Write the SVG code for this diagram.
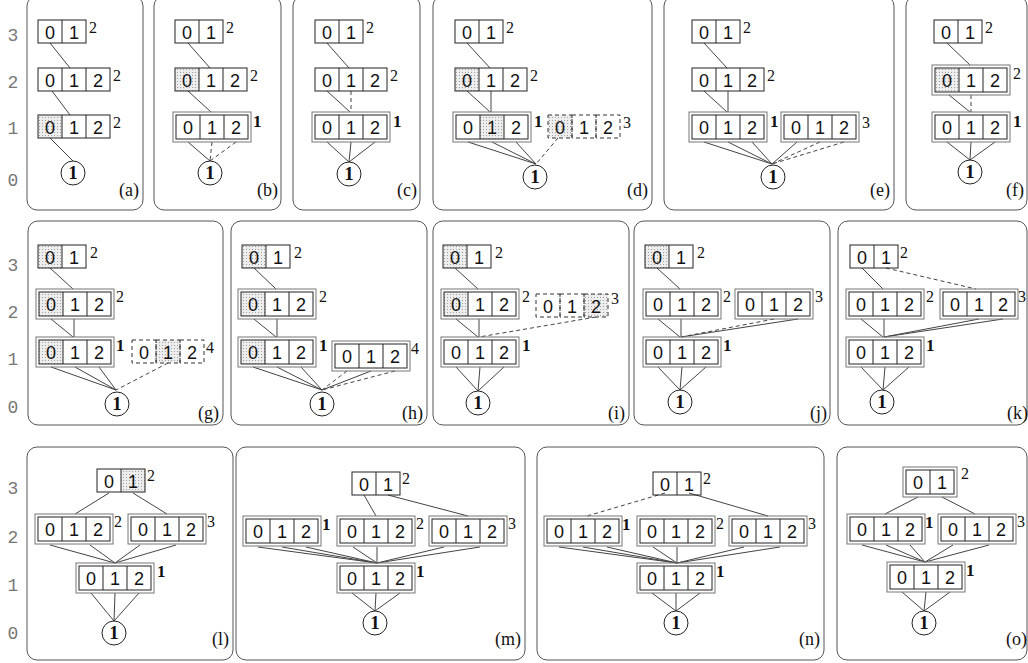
<svg xmlns="http://www.w3.org/2000/svg" xmlns:xlink="http://www.w3.org/1999/xlink" width="1028" height="663" viewBox="0 0 1028 663">
<style>
.fr{fill:none;stroke:#555;stroke-width:1}
.bx{fill:none;stroke:#222;stroke-width:1}
.ob{fill:none;stroke:#777;stroke-width:1}
.dx{fill:none;stroke:#333;stroke-width:1;stroke-dasharray:4 3}
.sh{fill:url(#dots)}
.dg{font-family:"Liberation Sans",Arial,sans-serif;font-size:18px;text-anchor:middle;fill:#111}
.sp{font-family:"Liberation Serif","Times New Roman",serif;font-size:16px;fill:#111}
.sb{font-family:"Liberation Serif","Times New Roman",serif;font-size:17px;font-weight:bold;fill:#111}
.cn{font-family:"Liberation Serif","Times New Roman",serif;font-size:19px;font-weight:bold;text-anchor:middle;fill:#111}
.nd{fill:#fff;stroke:#222;stroke-width:1}
.lv{font-family:"Liberation Mono","Courier New",monospace;font-size:18px;fill:#777;text-anchor:middle}
.lb{font-family:"Liberation Serif","Times New Roman",serif;font-size:18px;text-anchor:end;fill:#111}
.ln{stroke:#444;stroke-width:1;fill:none}
.dl{stroke:#444;stroke-width:1;stroke-dasharray:4 3;fill:none}
</style>
<defs>
<pattern id="dots" width="3" height="3" patternUnits="userSpaceOnUse"><rect width="3" height="3" fill="#ededed"/><rect width="1" height="1" fill="#a0a0a0"/></pattern>
<g id="s2"><rect class="bx" width="48" height="23"/><path class="bx" d="M24 0V23"/></g>
<g id="s3"><rect class="bx" width="72" height="23"/><path class="bx" d="M24 0V23M48 0V23"/></g>
<g id="d2"><rect class="ob" x="-3" y="-3" width="54" height="30"/><rect class="bx" width="48" height="24"/><path class="bx" d="M24 0V24"/></g>
<g id="d3"><rect class="ob" x="-3" y="-3" width="78" height="30"/><rect class="bx" width="72" height="24"/><path class="bx" d="M24 0V24M48 0V24"/></g>
<g id="x3"><rect class="dx" width="24" height="23"/><rect class="dx" x="24" width="24" height="23"/><rect class="dx" x="48" width="24" height="23"/></g>
</defs>
<rect width="1028" height="663" fill="#fff"/>
<g id="frames">
<rect class="fr" x="27" y="-4" width="116" height="214" rx="10"/>
<rect class="fr" x="154" y="-4" width="127" height="214" rx="10"/>
<rect class="fr" x="293" y="-4" width="127" height="214" rx="10"/>
<rect class="fr" x="433" y="-4" width="219" height="214" rx="10"/>
<rect class="fr" x="664" y="-4" width="230" height="214" rx="10"/>
<rect class="fr" x="906" y="-4" width="121" height="214" rx="10"/>
<rect class="fr" x="28" y="221" width="195" height="204" rx="10"/>
<rect class="fr" x="231" y="221" width="196" height="204" rx="10"/>
<rect class="fr" x="433" y="221" width="196" height="204" rx="10"/>
<rect class="fr" x="634" y="221" width="196" height="204" rx="10"/>
<rect class="fr" x="838" y="221" width="189" height="204" rx="10"/>
<rect class="fr" x="27" y="447" width="206" height="213" rx="10"/>
<rect class="fr" x="236" y="447" width="289" height="213" rx="10"/>
<rect class="fr" x="537" y="447" width="287" height="213" rx="10"/>
<rect class="fr" x="837" y="447" width="190" height="213" rx="10"/>
</g>
<g id="levels">
<text class="lv" x="13" y="41">3</text><text class="lv" x="13" y="88">2</text><text class="lv" x="13" y="134">1</text><text class="lv" x="13" y="186">0</text>
<text class="lv" x="13" y="271">3</text><text class="lv" x="13" y="318">2</text><text class="lv" x="13" y="365">1</text><text class="lv" x="13" y="413">0</text>
<text class="lv" x="13" y="494">3</text><text class="lv" x="13" y="543">2</text><text class="lv" x="13" y="591">1</text><text class="lv" x="13" y="639">0</text>
</g>
<g id="labels">
<text class="lb" x="139" y="196">(a)</text><text class="lb" x="278" y="196">(b)</text><text class="lb" x="417" y="196">(c)</text><text class="lb" x="648" y="196">(d)</text><text class="lb" x="890" y="196">(e)</text><text class="lb" x="1024" y="196">(f)</text>
<text class="lb" x="219" y="419">(g)</text><text class="lb" x="423" y="419">(h)</text><text class="lb" x="625" y="419">(i)</text><text class="lb" x="827" y="419">(j)</text><text class="lb" x="1028" y="419">(k)</text>
<text class="lb" x="229" y="645">(l)</text><text class="lb" x="521" y="645">(m)</text><text class="lb" x="820" y="645">(n)</text><text class="lb" x="1027" y="645">(o)</text>
</g>
<g id="connectors">
<path class="ln" d="M50 43L70 68M52 91L70 115M50 138L73 161"/>
<path class="ln" d="M188 43L210 68M188 91L211 112M188 142L210 161"/><path class="dl" d="M212 142L210 161M236 142L210 161"/>
<path class="ln" d="M327 43L349 68M327 91L350 112M327 142L349 162M351 142L349 162M375 142L349 162"/><path class="dl" d="M351 91L351 112"/>
<path class="ln" d="M467 43L490 68M467 91L490 112M491 91L491 112M468 142L536 164M492 142L536 164M516 142L536 164"/><path class="dl" d="M558 138L536 164"/>
<path class="ln" d="M704 43L727 68M704 91L727 112M728 91L728 112M704 142L772 164M728 142L772 164M752 142L772 164M797 142L772 164"/><path class="dl" d="M820 142L772 164M844 142L772 164"/>
<path class="ln" d="M947 43L970 65M949 95L970 112M947 142L970 160M971 142L970 160M995 142L970 160"/><path class="dl" d="M971 95L971 112"/>
<path class="ln" d="M50 268L73 289M51 319L73 337M74 319L74 337M51 367L116 390M75 367L116 390M99 367L116 390"/><path class="dl" d="M168 363L116 390"/>
<path class="ln" d="M254 268L276 289M254 319L276 337M277 319L277 337M253 367L322 390M277 367L322 390M301 367L322 390M371 371L322 390"/><path class="dl" d="M347 371L322 390M395 371L322 390"/>
<path class="ln" d="M455 268L478 289M456 319L478 337M479 319L479 337M456 367L478 391M480 367L478 391M504 367L478 391"/><path class="dl" d="M596 317L479 337"/>
<path class="ln" d="M657 268L680 289M658 319L680 337M681 319L681 337M798 319L681 337M658 367L680 390M682 367L680 390M706 367L680 390"/><path class="dl" d="M774 319L681 337"/>
<path class="ln" d="M862 268L883 289M861 319L883 337M884 319L884 337M979 319L884 337M1003 319L884 337M861 367L883 390M885 367L883 390M909 367L883 390"/><path class="dl" d="M886 268L976 289"/>
<path class="ln" d="M109 493L75 514M133 493L167 514M50 545L115 563M90 545L115 563M140 545L115 563M176 545L115 563M91 593L114 621M115 593L114 621M139 593L114 621"/>
<path class="ln" d="M364 495L376 516M388 495L468 516M258 547L377 563M282 547L377 563M306 547L377 563M353 547L377 563M377 547L377 563M444 547L377 563M480 547L377 563M352 593L375 611M376 593L375 611M400 593L375 611"/>
<path class="ln" d="M689 493L768 516M559 547L677 563M583 547L677 563M607 547L677 563M653 547L677 563M677 547L677 563M744 547L677 563M780 547L677 563M652 593L676 611M676 593L676 611M700 593L676 611"/><path class="dl" d="M665 493L587 516"/>
<path class="ln" d="M918 497L885 514M942 497L975 514M862 545L925 562M886 545L925 562M910 545L925 562M953 545L925 562M989 545L925 562M902 592L924 611M926 592L924 611M950 592L924 611"/>
</g>
<!-- panel a -->
<g id="a3"><use href="#s2" x="38" y="20"/><text class="dg" x="50 74" y="39">01</text><text class="sp" x="89" y="33">2</text></g>
<g id="a2"><use href="#s3" x="38" y="68"/><text class="dg" x="50 74 98" y="87">012</text><text class="sp" x="113" y="81">2</text></g>
<g id="a1"><rect class="sh" x="38" y="115" width="24" height="23"/><use href="#s3" x="38" y="115"/><text class="dg" x="50 74 98" y="134">012</text><text class="sp" x="113" y="128">2</text></g>
<g id="a0"><circle class="nd" cx="73" cy="173" r="12"/><text class="cn" x="73" y="179">1</text></g>
<!-- panel b -->
<g id="b3"><use href="#s2" x="175" y="20"/><text class="dg" x="187 211" y="39">01</text><text class="sp" x="226" y="33">2</text></g>
<g id="b2"><rect class="sh" x="175" y="68" width="24" height="23"/><use href="#s3" x="175" y="68"/><text class="dg" x="187 211 235" y="87">012</text><text class="sp" x="250" y="81">2</text></g>
<g id="b1"><use href="#d3" x="176" y="115"/><text class="dg" x="188 212 236" y="134">012</text><text class="sb" x="253" y="127">1</text></g>
<g id="b0"><circle class="nd" cx="210" cy="173" r="12"/><text class="cn" x="210" y="179">1</text></g>
<!-- panel c -->
<g id="c3"><use href="#s2" x="315" y="20"/><text class="dg" x="327 351" y="39">01</text><text class="sp" x="366" y="33">2</text></g>
<g id="c2"><use href="#s3" x="315" y="68"/><text class="dg" x="327 351 375" y="87">012</text><text class="sp" x="390" y="81">2</text></g>
<g id="c1"><use href="#d3" x="315" y="115"/><text class="dg" x="327 351 375" y="134">012</text><text class="sb" x="393" y="127">1</text></g>
<g id="c0"><circle class="nd" cx="349" cy="174" r="12"/><text class="cn" x="349" y="180">1</text></g>
<!-- panel d -->
<g id="d3n"><use href="#s2" x="455" y="20"/><text class="dg" x="467 491" y="39">01</text><text class="sp" x="506" y="33">2</text></g>
<g id="d2n"><rect class="sh" x="455" y="68" width="24" height="23"/><use href="#s3" x="455" y="68"/><text class="dg" x="467 491 515" y="87">012</text><text class="sp" x="530" y="81">2</text></g>
<g id="d1n"><rect class="sh" x="480" y="115" width="24" height="24"/><use href="#d3" x="456" y="115"/><text class="dg" x="468 492 516" y="134">012</text><text class="sb" x="534" y="127">1</text></g>
<g id="d1m"><rect class="sh" x="548" y="115" width="24" height="23"/><use href="#x3" x="548" y="115"/><text class="dg" x="560 584 608" y="134">012</text><text class="sp" x="623" y="128">3</text></g>
<g id="d0n"><circle class="nd" cx="535" cy="177" r="12"/><text class="cn" x="535" y="183">1</text></g>
<!-- panel e -->
<g id="e3"><use href="#s2" x="692" y="20"/><text class="dg" x="704 728" y="39">01</text><text class="sp" x="743" y="33">2</text></g>
<g id="e2"><use href="#s3" x="692" y="68"/><text class="dg" x="704 728 752" y="87">012</text><text class="sp" x="767" y="81">2</text></g>
<g id="e1"><use href="#d3" x="692" y="115"/><text class="dg" x="704 728 752" y="134">012</text><text class="sb" x="770" y="127">1</text></g>
<g id="e1b"><use href="#d3" x="784" y="115"/><text class="dg" x="796 820 844" y="134">012</text><text class="sp" x="862" y="128">3</text></g>
<g id="e0"><circle class="nd" cx="773" cy="177" r="12"/><text class="cn" x="773" y="183">1</text></g>
<!-- panel f -->
<g id="f3"><use href="#s2" x="934" y="20"/><text class="dg" x="946 970" y="39">01</text><text class="sp" x="985" y="33">2</text></g>
<g id="f2"><rect class="sh" x="935" y="68" width="24" height="24"/><use href="#d3" x="935" y="68"/><text class="dg" x="947 971 995" y="87">012</text><text class="sp" x="1013" y="79">2</text></g>
<g id="f1"><use href="#d3" x="935" y="115"/><text class="dg" x="947 971 995" y="134">012</text><text class="sb" x="1013" y="127">1</text></g>
<g id="f0"><circle class="nd" cx="970" cy="172" r="12"/><text class="cn" x="970" y="178">1</text></g>
<!-- panel g -->
<g id="g3"><rect class="sh" x="38" y="245" width="24" height="23"/><use href="#s2" x="38" y="245"/><text class="dg" x="50 74" y="264">01</text><text class="sp" x="90" y="258">2</text></g>
<g id="g2"><rect class="sh" x="39" y="292" width="24" height="24"/><use href="#d3" x="39" y="292"/><text class="dg" x="51 75 99" y="311">012</text><text class="sp" x="116" y="302">2</text></g>
<g id="g1"><rect class="sh" x="39" y="340" width="24" height="24"/><use href="#d3" x="39" y="340"/><text class="dg" x="51 75 99" y="359">012</text><text class="sb" x="116" y="351">1</text></g>
<g id="g1b"><rect class="sh" x="156" y="340" width="24" height="23"/><use href="#x3" x="132" y="340"/><text class="dg" x="144 168 192" y="359">012</text><text class="sp" x="206" y="353">4</text></g>
<g id="g0"><circle class="nd" cx="117" cy="404" r="12"/><text class="cn" x="117" y="410">1</text></g>
<!-- panel h -->
<g id="h3"><rect class="sh" x="242" y="245" width="24" height="23"/><use href="#s2" x="242" y="245"/><text class="dg" x="254 278" y="264">01</text><text class="sp" x="294" y="258">2</text></g>
<g id="h2"><rect class="sh" x="241" y="292" width="24" height="24"/><use href="#d3" x="241" y="292"/><text class="dg" x="253 277 301" y="311">012</text><text class="sp" x="319" y="302">2</text></g>
<g id="h1"><rect class="sh" x="241" y="340" width="24" height="24"/><use href="#d3" x="241" y="340"/><text class="dg" x="253 277 301" y="359">012</text><text class="sb" x="319" y="351">1</text></g>
<g id="h1b"><use href="#d3" x="335" y="344"/><text class="dg" x="347 371 395" y="363">012</text><text class="sp" x="411" y="354">4</text></g>
<g id="h0"><circle class="nd" cx="322" cy="404" r="12"/><text class="cn" x="322" y="410">1</text></g>
<!-- panel i -->
<g id="i3"><rect class="sh" x="443" y="245" width="24" height="23"/><use href="#s2" x="443" y="245"/><text class="dg" x="455 479" y="264">01</text><text class="sp" x="495" y="258">2</text></g>
<g id="i2"><rect class="sh" x="444" y="292" width="24" height="24"/><use href="#d3" x="444" y="292"/><text class="dg" x="456 480 504" y="311">012</text><text class="sp" x="522" y="302">2</text></g>
<g id="i2b"><rect class="sh" x="584" y="294" width="24" height="23"/><use href="#x3" x="536" y="294"/><text class="dg" x="548 572 596" y="313">012</text><text class="sp" x="611" y="304">3</text></g>
<g id="i1"><use href="#d3" x="444" y="340"/><text class="dg" x="456 480 504" y="359">012</text><text class="sb" x="522" y="351">1</text></g>
<g id="i0"><circle class="nd" cx="478" cy="403" r="12"/><text class="cn" x="478" y="409">1</text></g>
<!-- panel j -->
<g id="j3"><rect class="sh" x="645" y="245" width="24" height="23"/><use href="#s2" x="645" y="245"/><text class="dg" x="657 681" y="264">01</text><text class="sp" x="697" y="258">2</text></g>
<g id="j2"><use href="#d3" x="646" y="292"/><text class="dg" x="658 682 706" y="311">012</text><text class="sp" x="723" y="302">2</text></g>
<g id="j2b"><use href="#d3" x="738" y="292"/><text class="dg" x="750 774 798" y="311">012</text><text class="sp" x="815" y="302">3</text></g>
<g id="j1"><use href="#d3" x="646" y="340"/><text class="dg" x="658 682 706" y="359">012</text><text class="sb" x="723" y="351">1</text></g>
<g id="j0"><circle class="nd" cx="680" cy="402" r="12"/><text class="cn" x="680" y="408">1</text></g>
<!-- panel k -->
<g id="k3"><use href="#s2" x="850" y="245"/><text class="dg" x="862 886" y="264">01</text><text class="sp" x="900" y="258">2</text></g>
<g id="k2"><use href="#d3" x="849" y="292"/><text class="dg" x="861 885 909" y="311">012</text><text class="sp" x="926" y="302">2</text></g>
<g id="k2b"><use href="#d3" x="943" y="292"/><text class="dg" x="955 979 1003" y="311">012</text><text class="sp" x="1018" y="302">3</text></g>
<g id="k1"><use href="#d3" x="849" y="340"/><text class="dg" x="861 885 909" y="359">012</text><text class="sb" x="926" y="351">1</text></g>
<g id="k0"><circle class="nd" cx="882" cy="402" r="12"/><text class="cn" x="882" y="408">1</text></g>
<!-- panel l -->
<g id="l3"><rect class="sh" x="121" y="469" width="24" height="23"/><use href="#s2" x="97" y="469"/><text class="dg" x="109 133" y="488">01</text><text class="sp" x="147" y="481">2</text></g>
<g id="l2a"><use href="#d3" x="38" y="517"/><text class="dg" x="50 74 98" y="536">012</text><text class="sp" x="114" y="527">2</text></g>
<g id="l2b"><use href="#d3" x="131" y="517"/><text class="dg" x="143 167 191" y="536">012</text><text class="sp" x="207" y="527">3</text></g>
<g id="l1"><use href="#d3" x="79" y="566"/><text class="dg" x="91 115 139" y="585">012</text><text class="sb" x="157" y="577">1</text></g>
<g id="l0"><circle class="nd" cx="114" cy="633" r="12"/><text class="cn" x="114" y="639">1</text></g>
<!-- panel m -->
<g id="m3"><use href="#s2" x="352" y="472"/><text class="dg" x="364 388" y="491">01</text><text class="sp" x="402" y="484">2</text></g>
<g id="m2a"><use href="#d3" x="246" y="519"/><text class="dg" x="258 282 306" y="538">012</text><text class="sb" x="322" y="530">1</text></g>
<g id="m2b"><use href="#d3" x="340" y="519"/><text class="dg" x="352 376 400" y="538">012</text><text class="sp" x="416" y="529">2</text></g>
<g id="m2c"><use href="#d3" x="432" y="519"/><text class="dg" x="444 468 492" y="538">012</text><text class="sp" x="508" y="529">3</text></g>
<g id="m1"><use href="#d3" x="340" y="566"/><text class="dg" x="352 376 400" y="585">012</text><text class="sb" x="416" y="577">1</text></g>
<g id="m0"><circle class="nd" cx="375" cy="623" r="12"/><text class="cn" x="375" y="629">1</text></g>
<!-- panel n -->
<g id="n3"><use href="#s2" x="653" y="472"/><text class="dg" x="665 689" y="491">01</text><text class="sp" x="703" y="484">2</text></g>
<g id="n2a"><use href="#d3" x="547" y="519"/><text class="dg" x="559 583 607" y="538">012</text><text class="sb" x="622" y="530">1</text></g>
<g id="n2b"><use href="#d3" x="640" y="519"/><text class="dg" x="652 676 700" y="538">012</text><text class="sp" x="716" y="529">2</text></g>
<g id="n2c"><use href="#d3" x="732" y="519"/><text class="dg" x="744 768 792" y="538">012</text><text class="sp" x="808" y="529">3</text></g>
<g id="n1"><use href="#d3" x="640" y="566"/><text class="dg" x="652 676 700" y="585">012</text><text class="sb" x="716" y="577">1</text></g>
<g id="n0"><circle class="nd" cx="676" cy="623" r="12"/><text class="cn" x="676" y="629">1</text></g>
<!-- panel o -->
<g id="o3"><use href="#d2" x="906" y="470"/><text class="dg" x="918 942" y="489">01</text><text class="sp" x="961" y="479">2</text></g>
<g id="o2a"><use href="#d3" x="850" y="517"/><text class="dg" x="862 886 910" y="536">012</text><text class="sb" x="925" y="528">1</text></g>
<g id="o2b"><use href="#d3" x="941" y="517"/><text class="dg" x="953 977 1001" y="536">012</text><text class="sp" x="1017" y="527">3</text></g>
<g id="o1"><use href="#d3" x="890" y="565"/><text class="dg" x="902 926 950" y="584">012</text><text class="sb" x="966" y="576">1</text></g>
<g id="o0"><circle class="nd" cx="924" cy="623" r="12"/><text class="cn" x="924" y="629">1</text></g>
</svg>
